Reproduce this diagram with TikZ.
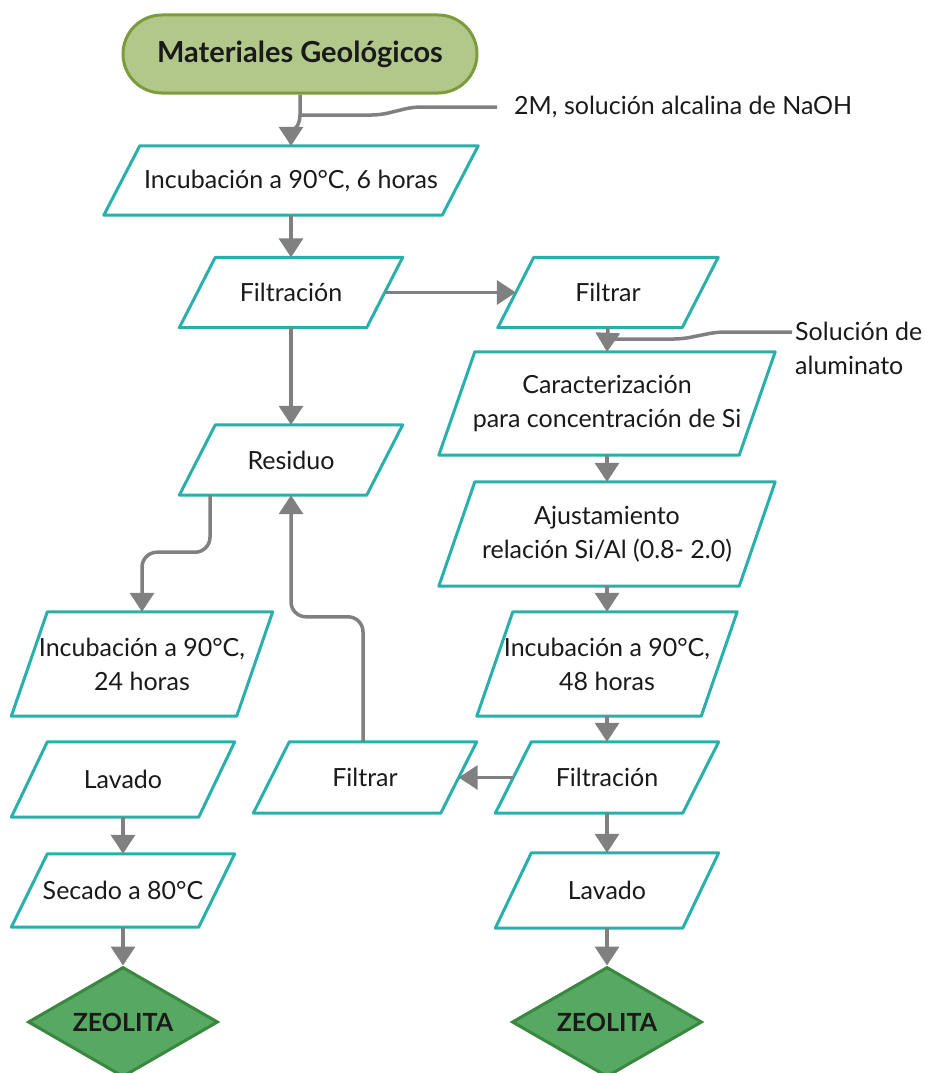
\documentclass[tikz,border=0pt]{standalone}
\usepackage{fontspec}
\setmainfont{Lato}
\usetikzlibrary{arrows.meta,shapes.geometric}

\definecolor{tealline}{HTML}{2AB0AC}
\definecolor{arrowgray}{HTML}{808080}
\definecolor{termfill}{HTML}{B2C78A}
\definecolor{termline}{HTML}{7C9C3C}
\definecolor{endfill}{HTML}{57A862}
\definecolor{endline}{HTML}{3A883F}
\definecolor{ink}{HTML}{1A1A1A}

\tikzset{
  ptext/.style={rectangle, inner sep=0pt, align=center, text=ink,
    font=\fontsize{25}{34}\selectfont},
  pline/.style={draw=tealline, line width=3pt, line join=round, fill=white},
  term/.style={rectangle, rounded corners=39pt, draw=termline, fill=termfill,
    line width=3pt, minimum width=354pt, minimum height=78pt, inner sep=0pt,
    text=ink, font=\fontsize{29}{34}\selectfont\bfseries},
  endnode/.style={diamond, aspect=1.73, draw=endline, fill=endfill,
    line width=3pt, minimum width=190pt, minimum height=110pt, inner sep=0pt,
    text=ink, font=\fontsize{25}{30}\selectfont\bfseries},
  arr/.style={draw=arrowgray, line width=3.5pt,
    -{Triangle[length=19pt,width=24pt]}},
  feed/.style={draw=arrowgray, line width=3.5pt, rounded corners=8pt},
  note/.style={inner sep=0pt, align=left, text=ink,
    font=\fontsize{25}{34}\selectfont},
}

% slanted input/output block: name, x, y, width, height, text
\newcommand\ioblock[6]{%
  \node[ptext, minimum width=#4pt, minimum height=#5pt] (#1) at (#2,#3) {};
  \draw[pline] ([xshift=18pt]#1.north west) -- ([xshift=18pt]#1.north east)
    -- ([xshift=-18pt]#1.south east) -- ([xshift=-18pt]#1.south west) -- cycle;
  \node[ptext] at (#1.center) {#6};
}

\begin{document}
\begin{tikzpicture}[x=1pt,y=-1pt]
\useasboundingbox (0,0) rectangle (925,1073);

% start
\node[term] (mat) at (300,54) {Materiales Geológicos};

% left branch
\ioblock{inc6}{291}{180.5}{338}{69}{Incubación a 90°C, 6 horas}
\ioblock{filt1}{291}{292.5}{187}{70}{Filtración}
\ioblock{res}{291}{460}{187}{70}{Residuo}
\ioblock{inc24}{142}{664}{225}{104}{Incubación a 90°C,\\24 horas}
\ioblock{lav1}{123}{779.5}{187}{75}{Lavado}
\ioblock{sec}{123}{890.5}{187}{73}{Secado a 80°C}
\ioblock{filtrar2}{365}{777.5}{187}{71}{Filtrar}

% right branch
\ioblock{filtrar1}{608}{292.5}{184}{70}{Filtrar}
\ioblock{car}{607}{403.5}{300}{103}{Caracterización\\para concentración de Si}
\ioblock{aju}{607}{534}{300}{104}{Ajustamiento\\relación Si/Al (0.8- 2.0)}
\ioblock{inc48}{607}{664}{224}{104}{Incubación a 90°C,\\48 horas}
\ioblock{filt2}{607}{777.5}{187}{71}{Filtración}
\ioblock{lav2}{607}{890.5}{187}{75}{Lavado}

% end points
\node[endnode] (zeo1) at (123,1022) {ZEOLITA};
\node[endnode] (zeo2) at (607,1022) {ZEOLITA};

% reagent notes
\node[note, anchor=west] (naoh) at (514,107) {2M, solución alcalina de NaOH};
\node[note, anchor=west] (alu) at (795,348.5) {Solución de\\aluminato};

\coordinate (j1) at (300,115);
\coordinate (j2) at (607,339);
\coordinate (naohend) at (497,107);
\coordinate (aluend) at (792,332);

% reagent feeds
\draw[feed] (naohend) -- (413,107) -- (380,115) -- (j1);
\draw[feed] (aluend) -- (717,332) -- (682,339) -- (j2);

% main flow
\draw[arr] (mat.south) -- (j1) to[out=-90,in=90] (inc6.north);
\draw[arr] (inc6.south) -- (filt1.north);
\draw[arr] (filt1.east) -- (filtrar1.west);
\draw[arr] (filt1.south) -- (res.north);
\draw[arr] (filtrar1.south) -- (car.north);
\draw[arr] (car.south) -- (aju.north);
\draw[arr] (aju.south) -- (inc48.north);
\draw[arr] (inc48.south) -- (filt2.north);
\draw[arr] (filt2.west) -- (filtrar2.east);
\draw[arr] (filt2.south) -- (lav2.north);
\draw[arr] (lav2.south) -- (zeo2.north);
\draw[arr, rounded corners=15pt] ([xshift=-81pt]res.south) -- ++(0,57) -| (inc24.north);
\draw[arr, rounded corners=15pt] ([xshift=-2pt]filtrar2.north) -- ++(0,-125) -| (res.south);
\draw[arr] (lav1.south) -- (sec.north);
\draw[arr] (sec.south) -- (zeo1.north);
\end{tikzpicture}
\end{document}
